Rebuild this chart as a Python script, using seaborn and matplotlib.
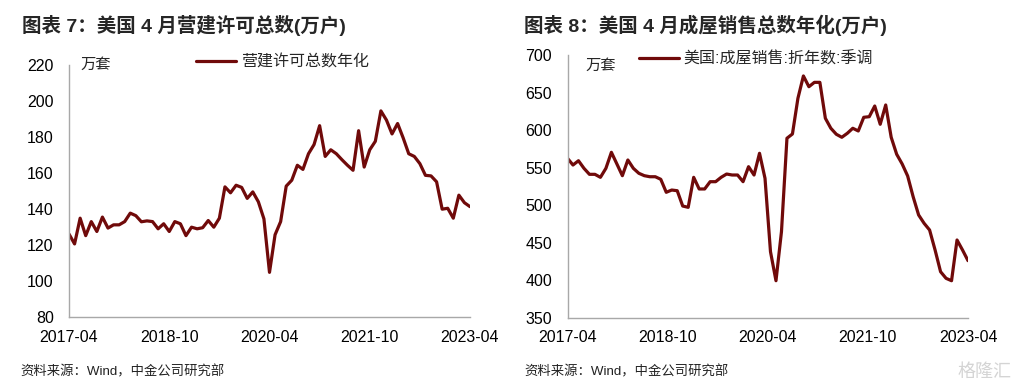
import numpy as np
import pandas as pd
import matplotlib
matplotlib.use("Agg")
import matplotlib.pyplot as plt
import seaborn as sns

# ---------------- data ----------------
permit_values = [126.1, 120.6, 134.9, 125.2, 133.0, 127.5, 135.5, 129.4, 131.2, 131.2,
                 133.0, 137.7, 136.3, 132.9, 133.4, 133.0, 129.0, 131.8, 127.5, 133.0,
                 131.8, 125.2, 129.9, 129.0, 129.6, 133.6, 129.9, 134.9, 152.3, 149.0,
                 153.2, 152.0, 145.9, 149.5, 144.0, 134.5, 104.8, 125.7, 133.0, 152.7,
                 156.0, 164.3, 162.0, 170.7, 175.8, 186.3, 169.2, 172.9, 170.7, 167.4,
                 164.3, 161.5, 183.5, 163.3, 172.9, 177.6, 194.5, 189.4, 181.7, 187.5,
                 179.5, 170.7, 169.2, 165.2, 158.7, 158.4, 155.1, 139.9, 140.4, 134.9,
                 147.7, 143.5, 141.3]

sales_values = [562.5, 553.6, 559.3, 549.2, 541.2, 541.2, 537.2, 549.2, 570.5, 555.0,
                539.4, 560.3, 549.2, 542.6, 539.4, 538.0, 538.0, 534.6, 517.3, 520.3,
                519.4, 499.0, 497.3, 537.2, 521.7, 521.7, 531.4, 531.4, 537.2, 541.6,
                540.3, 540.3, 531.4, 551.4, 540.3, 569.2, 535.9, 438.2, 399.6, 464.9,
                589.2, 594.9, 642.4, 672.1, 657.8, 663.6, 663.6, 615.8, 602.5, 594.5,
                590.5, 595.8, 602.5, 598.9, 617.1, 617.9, 632.1, 607.8, 633.5, 590.5,
                567.9, 555.0, 539.0, 511.4, 487.1, 476.0, 467.1, 440.5, 411.6, 402.8,
                399.6, 453.8, 440.5, 426.3]

tick_labels = ["2017-04", "2018-10", "2020-04", "2021-10", "2023-04"]
left_yticks = [80, 100, 120, 140, 160, 180, 200, 220]
right_yticks = [350, 400, 450, 500, 550, 600, 650, 700]

left_title = "图表 7：美国 4 月营建许可总数(万户)"
right_title = "图表 8：美国 4 月成屋销售总数年化(万户)"
left_legend = "营建许可总数年化"
right_legend = "美国:成屋销售:折年数:季调"
unit_label = "万套"
source_text = "资料来源：Wind，中金公司研究部"
watermark = "格隆汇"

# ---------------- style ----------------
sns.set_theme(style="white")
plt.rcParams["font.family"] = ["Liberation Sans", "Noto Sans CJK SC", "DejaVu Sans"]
plt.rcParams["axes.unicode_minus"] = False

LINE = "#700A0A"
SPINE = "#A8A8A8"
W, H = 1018, 392

fig = plt.figure(figsize=(W / 100, H / 100), dpi=100)
fig.patch.set_facecolor("white")

ax1 = fig.add_axes([69 / W, 1 - 317 / H, (470 - 69) / W, (317 - 65) / H])
ax2 = fig.add_axes([567.5 / W, 1 - 318 / H, (968 - 567.5) / W, (318 - 55) / H])

df1 = pd.DataFrame({"i": np.arange(len(permit_values)), "v": permit_values})
df2 = pd.DataFrame({"i": np.arange(len(sales_values)), "v": sales_values})

sns.lineplot(data=df1, x="i", y="v", ax=ax1, color=LINE, linewidth=2.3, label=left_legend)
sns.lineplot(data=df2, x="i", y="v", ax=ax2, color=LINE, linewidth=2.3, label=right_legend)

for ax, df, yt, leg_x, leg_y in [(ax1, df1, left_yticks, 0.317, 1.013),
                                 (ax2, df2, right_yticks, 0.1785, 0.984)]:
    n = len(df)
    ax.set_xlim(0, n - 1)
    ax.set_ylim(yt[0], yt[-1])
    ax.set_yticks(yt)
    ax.set_xticks(np.linspace(0, n - 1, len(tick_labels)))
    ax.set_xticklabels(tick_labels)
    ax.set_xlabel("")
    ax.set_ylabel("")
    for s in ["top", "right"]:
        ax.spines[s].set_visible(False)
    for s in ["left", "bottom"]:
        ax.spines[s].set_color(SPINE)
        ax.spines[s].set_linewidth(1.0)
    ax.tick_params(axis="both", direction="in", length=4, width=1, color=SPINE,
                   labelsize=11.5, labelcolor="black")
    ax.tick_params(axis="y", pad=11)
    ax.tick_params(axis="x", pad=9)
    ax.grid(False)
    ax.set_facecolor("white")
    leg = ax.legend(loc="center left", bbox_to_anchor=(leg_x, leg_y), frameon=False,
                    borderpad=0, borderaxespad=0, handlelength=2.5, handletextpad=0.3,
                    fontsize=11.5)
    for line in leg.get_lines():
        line.set_linewidth(2.3)

# unit labels
fig.text(80 / W, 1 - 65 / H, unit_label, fontsize=11, va="center", ha="left")
fig.text(585 / W, 1 - 66 / H, unit_label, fontsize=11, va="center", ha="left")

# titles
fig.text(22 / W, 1 - 25 / H, left_title, fontsize=14, fontweight="bold", va="center", ha="left")
fig.text(524 / W, 1 - 25 / H, right_title, fontsize=14, fontweight="bold", va="center", ha="left")

# sources
fig.text(20 / W, 1 - 372 / H, source_text, fontsize=9.6, va="center", ha="left", color="#222222")
fig.text(524 / W, 1 - 372 / H, source_text, fontsize=9.6, va="center", ha="left", color="#222222")

# watermark
fig.text(1012 / W, 1 - 372 / H, watermark, fontsize=13, va="center", ha="right", color="#D4D4D4")

fig.savefig("out.png", dpi=100, facecolor="white")
